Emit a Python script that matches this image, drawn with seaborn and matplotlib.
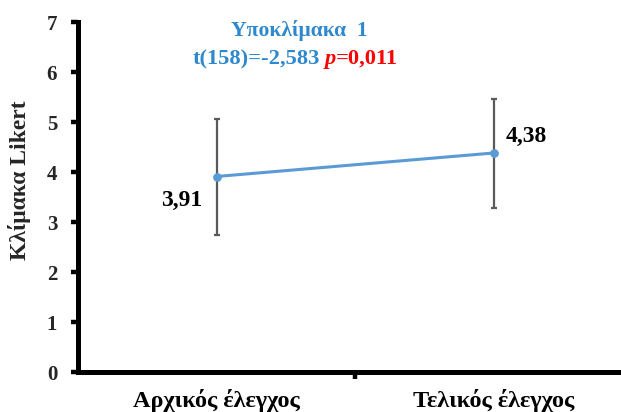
import matplotlib
matplotlib.use("Agg")
import matplotlib.pyplot as plt
import seaborn as sns
import pandas as pd

# Means and standard deviations of the subscale at the two measurements
stages = ["Αρχικός έλεγχος", "Τελικός έλεγχος"]
means = [3.91, 4.38]
sds = [1.16, 1.09]
value_labels = ["3,91", "4,38"]
y_ticks = [0, 1, 2, 3, 4, 5, 6, 7]

sns.set_theme(style="white")
plt.rcParams["font.family"] = ["Liberation Serif", "DejaVu Serif"]
plt.rcParams["font.weight"] = "bold"

W, H = 621, 412
fig = plt.figure(figsize=(W / 100, H / 100), dpi=100)
ax = fig.add_axes([78 / W, 40 / H, 554 / W, 350 / H])

df = pd.DataFrame({"stage": stages, "mean": means})
line_color = "#5B9BD5"
sns.lineplot(data=df, x="stage", y="mean", ax=ax, color=line_color,
             linewidth=2.2, marker="o", markersize=5.5,
             markeredgecolor=line_color, sort=False, zorder=3)
ax.errorbar(range(len(stages)), means, yerr=sds, fmt="none",
            ecolor="#5A5A5A", elinewidth=1.6, capsize=2.5, capthick=1.6, zorder=2)

ax.set_xlim(-0.5, 1.5)
ax.set_ylim(0, 7)
ax.set_yticks(y_ticks)
ax.set_yticklabels([str(t) for t in y_ticks], fontsize=15, fontweight="bold")
ax.set_xticks([0.5])
ax.set_xticklabels([""])
ax.set_xlabel("")
ax.set_ylabel("")

for side in ["top", "right"]:
    ax.spines[side].set_visible(False)
for side in ["left", "bottom"]:
    ax.spines[side].set_color("black")
    ax.spines[side].set_linewidth(3.6)
ax.tick_params(axis="both", direction="out", length=5, width=3.2,
               color="black", left=True, bottom=True, pad=10)

# Category labels under the axis
for i, s in enumerate(stages):
    ax.text(i, -0.70, s, ha="center", va="baseline", fontsize=17.5,
            fontweight="bold", color="black", clip_on=False)

# Value labels next to the means
ax.text(-0.052, means[0] - 0.47, value_labels[0], ha="right", va="center",
        fontsize=17, fontweight="bold", color="black")
ax.text(1.042, means[1] + 0.34, value_labels[1], ha="left", va="center",
        fontsize=17, fontweight="bold", color="black")

fig.text(20 / W, 1 - 180 / H, "Κλίμακα Likert", rotation=90,
         ha="center", va="center", fontsize=17, fontweight="bold")

# Title with test statistic
title_blue = "#2E88CD"
fig.text(299 / W, 1 - 36 / H, "Υποκλίμακα  1", ha="center", va="baseline",
         fontsize=15.5, fontweight="bold", color=title_blue)
t_part = fig.text(193 / W, 1 - 64 / H, "t(158)=-2,583", ha="left", va="baseline",
                  fontsize=16.2, fontweight="bold", color=title_blue)
fig.canvas.draw()
renderer = fig.canvas.get_renderer()
x_end = t_part.get_window_extent(renderer).x1 + 4
p_part = fig.text(x_end / W, 1 - 64 / H, "p", ha="left", va="baseline",
                  fontsize=16.2, fontweight="bold", style="italic", color="#FF0000")
x_end = p_part.get_window_extent(renderer).x1 + 0.5
fig.text(x_end / W, 1 - 64 / H, "=0,011", ha="left", va="baseline",
         fontsize=16.2, fontweight="bold", color="#FF0000")

fig.savefig("out.png", dpi=100, facecolor="white")
